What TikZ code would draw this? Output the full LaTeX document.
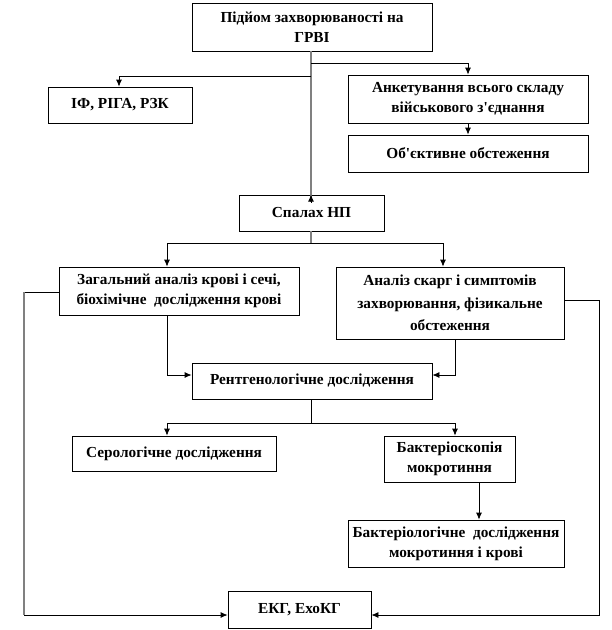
\documentclass[tikz,border=0pt]{standalone}
\usepackage{fontspec}
\setmainfont{Liberation Serif}
\usetikzlibrary{arrows.meta,calc}
\begin{document}
\begin{tikzpicture}[x=1pt,y=-1pt,
  box/.style={draw=black,line width=0.8pt,align=center,inner sep=0pt,
    font=\fontsize{15.3}{20}\selectfont\bfseries},
  conn/.style={draw=black,line width=0.8pt},
  arr/.style={conn,-{Latex[length=7pt,width=6pt]}},
  greyline/.style={draw=black!50,line width=2pt}]
\useasboundingbox (0,0) rectangle (612,630);
\node[box,minimum width=240pt,minimum height=48pt] (b1) at (312,27) {Підйом захворюваності на\\ГРВІ};
\node[box,minimum width=144pt,minimum height=36pt] (ifr) at (120,105) {ІФ, РІГА, РЗК};
\node[box,minimum width=240pt,minimum height=48pt] (ank) at (468,99) {Анкетування всього складу\\військового з\textquotesingle єднання};
\node[box,minimum width=240pt,minimum height=37pt] (obj) at (468,153.5) {Об\textquotesingle єктивне обстеження};
\node[box,minimum width=145pt,minimum height=36pt] (spl) at (311.5,213) {Спалах НП};
\node[box,minimum width=240pt,minimum height=48pt] (zag) at (179,291) {Загальний аналіз крові і сечі,\\біохімічне\ \ дослідження крові};
\node[box,minimum width=228pt,minimum height=72pt,font=\fontsize{15.3}{22.5}\selectfont\bfseries] (anl) at (450,303) {Аналіз скарг і симптомів\\захворювання, фізикальне\\обстеження};
\node[box,minimum width=240pt,minimum height=36pt] (rnt) at (312,381) {Рентгенологічне дослідження};
\node[box,minimum width=204pt,minimum height=35pt] (ser) at (174,453.5) {Серологічне дослідження};
\node[box,minimum width=131pt,minimum height=46pt] (bsk) at (449.5,459) {Бактеріоскопія\\мокротиння};
\node[box,minimum width=216pt,minimum height=47pt] (bgl) at (456,543.5) {Бактеріологічне\ \ дослідження\\мокротиння і крові};
\node[box,minimum width=143pt,minimum height=37pt] (ekg) at (299.5,609.5) {ЕКГ, ЕхоКГ};
% junctions
\coordinate (jr) at (311,63);
\coordinate (jl) at (311,76);
\coordinate (js) at (311,243);
\coordinate (jzl) at (167,243);
\coordinate (jzr) at (443,243);
\coordinate (jrt) at (311,423);
\coordinate (jsl) at (167,423);
\coordinate (jsr) at (455,423);
\coordinate (lz) at (24,292);
\coordinate (lzb) at (24,615);
\coordinate (ra) at (599,300);
\coordinate (rab) at (599,615);
% main grey trunk
\draw[greyline] (b1.south -| jr) -- ([yshift=-7pt]spl.north -| jr);
\draw[arr] ([yshift=-8pt]spl.north -| jr) -- (spl.north -| jr);
\draw[arr] (jr) -| (ank.north);
\draw[arr] (jl) -| (ifr.north -| 119,0);
\draw[arr] (ank.south) -- (obj.north);
\draw[greyline] (spl.south -| js) -- (js);
\draw[conn] (jzl) -- (jzr);
\draw[arr] (jzl) -- (zag.north -| jzl);
\draw[arr] (jzr) -- (anl.north -| jzr);
% to ECG
\draw[conn] (zag.west |- lz) -- (lz);
\draw[greyline] (lz) -- (lzb);
\draw[arr] (lzb) -- (ekg.west |- lzb);
\draw[arr] (anl.east |- ra) -- (ra) -- (rab) -- (ekg.east |- rab);
% to Roentgen
\draw[arr] (zag.south -| jzl) |- (rnt.west |- 0,375);
\draw[arr] (anl.south -| jsr) |- (rnt.east |- 0,375);
% from Roentgen
\draw[conn] (rnt.south -| jrt) -- (jrt);
\draw[conn] (jsl) -- (jsr);
\draw[arr] (jsl) -- (ser.north -| jsl);
\draw[arr] (jsr) -- (bsk.north -| jsr);
\draw[arr] (bsk.south -| 479,0) -- (bgl.north -| 479,0);
\end{tikzpicture}
\end{document}
